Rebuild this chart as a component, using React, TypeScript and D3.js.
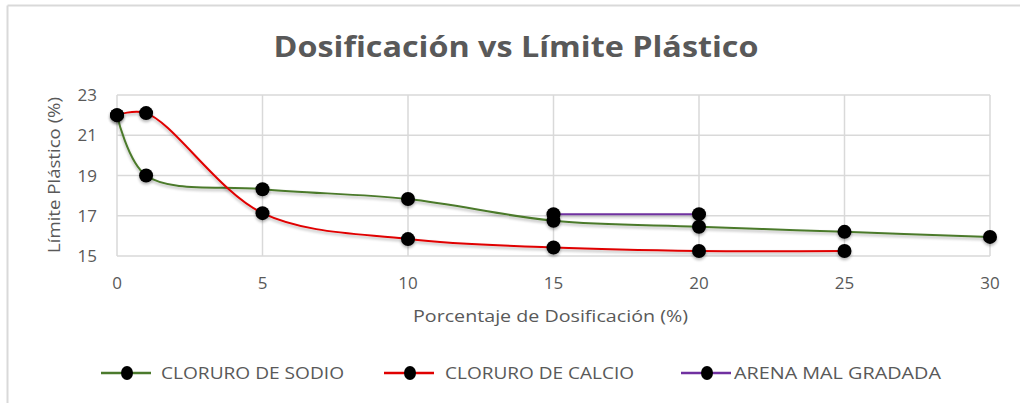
import React from "react";
import * as d3 from "d3";

const dosis = [0, 1, 5, 10, 15, 20, 25, 30];
const sodio = [22.0, 19.0, 18.32, 17.83, 16.75, 16.45, 16.2, 15.95];
const dosisCalcio = [0, 1, 5, 10, 15, 20, 25];
const calcio = [22.0, 22.1, 17.13, 15.84, 15.42, 15.25, 15.25];
const dosisArena = [15, 20];
const arena = [17.08, 17.08];
const xTicks = [0, 5, 10, 15, 20, 25, 30];
const yTicks = [15, 17, 19, 21, 23];

const seriesNames = ["CLORURO DE SODIO", "CLORURO DE CALCIO", "ARENA MAL GRADADA"];
const seriesColors = ["#4b7a2c", "#e00000", "#7030a0"];

const W = 1020;
const H = 403;
const FONT = "'Open Sans', sans-serif";
const GRAY = "#595959";
const GRID = "#d9d9d9";

export default function App() {
  const x = d3.scaleLinear().domain([0, 30]).range([117, 990]);
  const y = d3.scaleLinear().domain([15, 23]).range([256, 95]);

  const series = [
    { name: seriesNames[0], color: seriesColors[0], xs: dosis, ys: sodio },
    { name: seriesNames[1], color: seriesColors[1], xs: dosisCalcio, ys: calcio },
    { name: seriesNames[2], color: seriesColors[2], xs: dosisArena, ys: arena },
  ];

  const line = d3
    .line<[number, number]>()
    .x((d) => x(d[0]))
    .y((d) => y(d[1]))
    .curve(d3.curveCatmullRom.alpha(0.5));

  const legendLineX = [101, 384, 681];
  const legendTextX = [161, 445, 734];
  const legendTextLen = [183, 189, 207];

  return (
    <svg
      width={W}
      height={H}
      style={{ position: "absolute", left: 0, top: 0, background: "#fff" }}
    >
      <defs>
        <filter id="sh" filterUnits="userSpaceOnUse" x={0} y={0} width={W} height={H}>
          <feGaussianBlur in="SourceAlpha" stdDeviation="1.5" />
          <feOffset dx="0" dy="2" result="b" />
          <feComponentTransfer>
            <feFuncA type="linear" slope="0.3" />
          </feComponentTransfer>
          <feMerge>
            <feMergeNode />
            <feMergeNode in="SourceGraphic" />
          </feMerge>
        </filter>
      </defs>
      <rect x={0} y={0} width={W} height={H} fill="#fff" />
      {/* chart border */}
      <line x1={7.5} x2={W} y1={5.5} y2={5.5} stroke={GRID} strokeWidth={2} />
      <line x1={7.5} x2={7.5} y1={5.5} y2={H} stroke={GRID} strokeWidth={2} />

      <text
        x={516}
        y={57}
        textAnchor="middle"
        fontFamily={FONT}
        fontWeight={700}
        fontSize={28}
        fill={GRAY}
        textLength={485}
        lengthAdjust="spacingAndGlyphs"
      >
        Dosificación vs Límite Plástico
      </text>

      {/* gridlines */}
      {yTicks.map((t) => (
        <line key={"gy" + t} x1={x(0)} x2={x(30)} y1={y(t)} y2={y(t)} stroke={GRID} strokeWidth={1.5} />
      ))}
      {xTicks.map((t) => (
        <line key={"gx" + t} x1={x(t)} x2={x(t)} y1={y(23)} y2={y(15)} stroke={GRID} strokeWidth={1.5} />
      ))}

      {/* tick labels */}
      {yTicks.map((t) => (
        <text key={"ty" + t} x={97} y={y(t) + 6} textAnchor="end" fontFamily={FONT} fontSize={17} fill={GRAY}>
          {t}
        </text>
      ))}
      {xTicks.map((t) => (
        <text key={"tx" + t} x={x(t)} y={289} textAnchor="middle" fontFamily={FONT} fontSize={17} fill={GRAY}>
          {t}
        </text>
      ))}

      <text
        x={550.5}
        y={322}
        textAnchor="middle"
        fontFamily={FONT}
        fontSize={17}
        fill={GRAY}
        textLength={275}
        lengthAdjust="spacingAndGlyphs"
      >
        Porcentaje de Dosificación (%)
      </text>
      <text
        transform={`translate(60,${175}) rotate(-90)`}
        textAnchor="middle"
        fontFamily={FONT}
        fontSize={16}
        fill={GRAY}
        textLength={156}
        lengthAdjust="spacingAndGlyphs"
      >
        Límite Plástico (%)
      </text>

      {/* series */}
      {series.map((s) => {
        const pts = s.xs.map((v, i) => [v, s.ys[i]] as [number, number]);
        return (
          <g key={s.name} filter="url(#sh)">
            <path d={line(pts) || ""} fill="none" stroke={s.color} strokeWidth={2} />
          </g>
        );
      })}
      {series.map((s) => (
        <g key={s.name + "m"} filter="url(#sh)">
          {s.xs.map((v, i) => (
            <circle key={i} cx={x(v)} cy={y(s.ys[i])} r={7} fill="#000" />
          ))}
        </g>
      ))}

      {/* legend */}
      {series.map((s, i) => (
        <g key={s.name + "l"}>
          <line x1={legendLineX[i]} x2={legendLineX[i] + 50} y1={373} y2={373} stroke={s.color} strokeWidth={2.5} />
          <ellipse cx={legendLineX[i] + 26} cy={373} rx={6} ry={7} fill="#000" />
          <text
            x={legendTextX[i]}
            y={379}
            fontFamily={FONT}
            fontSize={17}
            fill={GRAY}
            textLength={legendTextLen[i]}
            lengthAdjust="spacingAndGlyphs"
          >
            {s.name}
          </text>
        </g>
      ))}
    </svg>
  );
}
